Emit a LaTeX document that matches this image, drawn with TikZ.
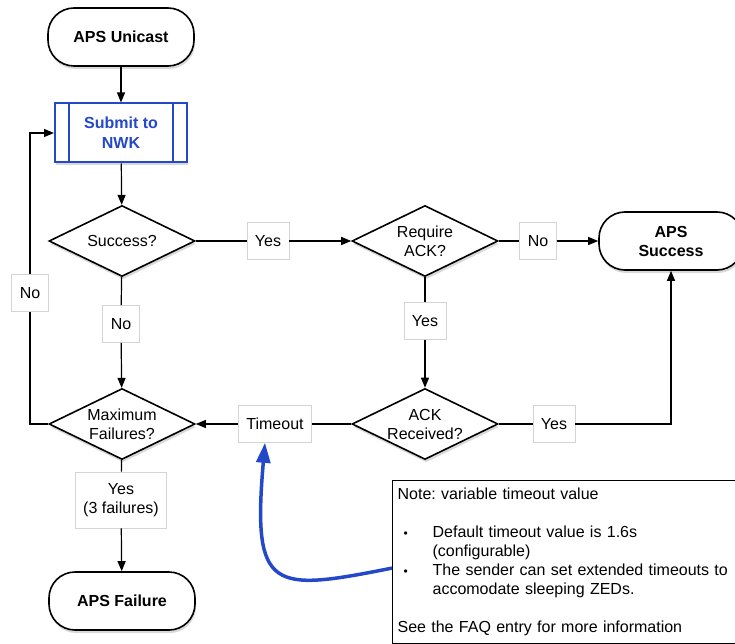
\documentclass[tikz,border=0pt]{standalone}
\usepackage{fontspec}
\setmainfont{Liberation Sans}
\usetikzlibrary{calc,positioning,shapes,arrows.meta,shadows}
\definecolor{nwkblue}{RGB}{35,72,200}
\definecolor{lblgray}{RGB}{212,212,212}
\frenchspacing

\begin{document}
\begin{tikzpicture}[x=1pt, y=-1pt, font=\fontsize{16}{19}\selectfont]
\tikzstyle{shade}=[drop shadow={shadow xshift=1pt, shadow yshift=-3pt, opacity=.3}]
\tikzstyle{term}=[draw, line width=1.6pt, fill=white, rounded corners=26pt,
                  minimum width=146pt, minimum height=58pt, align=center,
                  font=\fontsize{16}{19}\selectfont\bfseries, shade]
\tikzstyle{proc}=[draw=nwkblue, line width=2pt, fill=white, text=nwkblue,
                  minimum width=132pt, minimum height=59pt, align=center,
                  font=\fontsize{16}{20}\selectfont\bfseries, shade]
\tikzstyle{decision}=[diamond, draw, line width=1.6pt, fill=white, aspect=2,
                      inner sep=0pt, minimum width=146pt, minimum height=71pt,
                      align=center, shade]
\tikzstyle{lbl}=[draw=lblgray, line width=.6pt, fill=white, inner xsep=8pt,
                 minimum height=37pt, align=center]
\tikzstyle{notebox}=[draw, line width=1.2pt, fill=white, inner xsep=5pt,
                     text width=333pt, minimum height=163pt, align=left]
\tikzstyle{line}=[line width=1.2pt]
\tikzstyle{arr}=[line, -{Triangle[length=10pt,width=8pt]}]
\tikzstyle{callout}=[nwkblue, line width=3.5pt, -{Triangle[length=20pt,width=14pt]}]
\useasboundingbox (0,0) rectangle (735,644);

\node[term] (unicast) at (121,37) {APS Unicast};
\node[proc] (submit) at (121,133) {Submit to\\NWK};
\node[decision] (success) at (122,241) {Success?};
\node[lbl] (yesA) at (268,241) {Yes};
\node[decision] (reqack) at (425,241) {Require\\ACK?};
\node[lbl] (noA) at (538,241) {No};
\node[term, minimum width=144pt] (apsok) at (671,241) {APS\\Success};
\node[lbl] (noB) at (121,324) {No};
\node[lbl] (yesB) at (425,321) {Yes};
\node[lbl] (noC) at (30,293) {No};
\node[decision] (maxfail) at (122,424) {Maximum\\Failures?};
\node[lbl] (timeout) at (275,424) {Timeout};
\node[decision] (ackrec) at (425,424) {ACK\\Received?};
\node[lbl] (yesC) at (554,424) {Yes};
\node[lbl, minimum height=56pt] (yesD) at (121,500) {Yes\\(3 failures)};
\node[term] (apsfail) at (122,601) {APS Failure};
\node[notebox, anchor=north west] (note) at (392,480) {Note: variable timeout value\\[19pt]
  \makebox[35pt][l]{\hspace{6pt}{\fontsize{12}{19}\selectfont •}}Default timeout value is 1.6s\\
  \hspace*{35pt}(configurable)\\
  \makebox[35pt][l]{\hspace{6pt}{\fontsize{12}{19}\selectfont •}}The sender can set extended timeouts to\\
  \hspace*{35pt}accomodate sleeping ZEDs.\\[19pt]
  See the FAQ entry for more information};

\draw[nwkblue, line width=2pt] ($(submit.north west)+(15,0)$) -- ($(submit.south west)+(15,0)$);
\draw[nwkblue, line width=2pt] ($(submit.north east)+(-15,0)$) -- ($(submit.south east)+(-15,0)$);

\draw[arr] (unicast) -- (submit);
\draw[arr] (submit) -- (success);
\draw[line] (success) -- (yesA);
\draw[arr] (yesA) -- (reqack);
\draw[line] (reqack) -- (noA);
\draw[arr] (noA) -- (apsok);
\draw[line] (success) -- (noB);
\draw[arr] (noB) -- (maxfail);
\draw[line] (reqack) -- (yesB);
\draw[arr] (yesB) -- (ackrec);
\draw[line] (ackrec) -- (timeout);
\draw[arr] (timeout) -- (maxfail);
\draw[line] (ackrec) -- (yesC);
\draw[arr] (yesC) -| (apsok);
\draw[line] (maxfail) -| (noC);
\draw[arr] (noC) |- (submit);
\draw[line] (maxfail) -- (yesD);
\draw[arr] (yesD) -- (apsfail);
\draw[callout] ([yshift=-6pt]note.west) .. controls (272,592) and (252,592) .. ([xshift=-10pt]timeout.south);
\end{tikzpicture}
\end{document}
